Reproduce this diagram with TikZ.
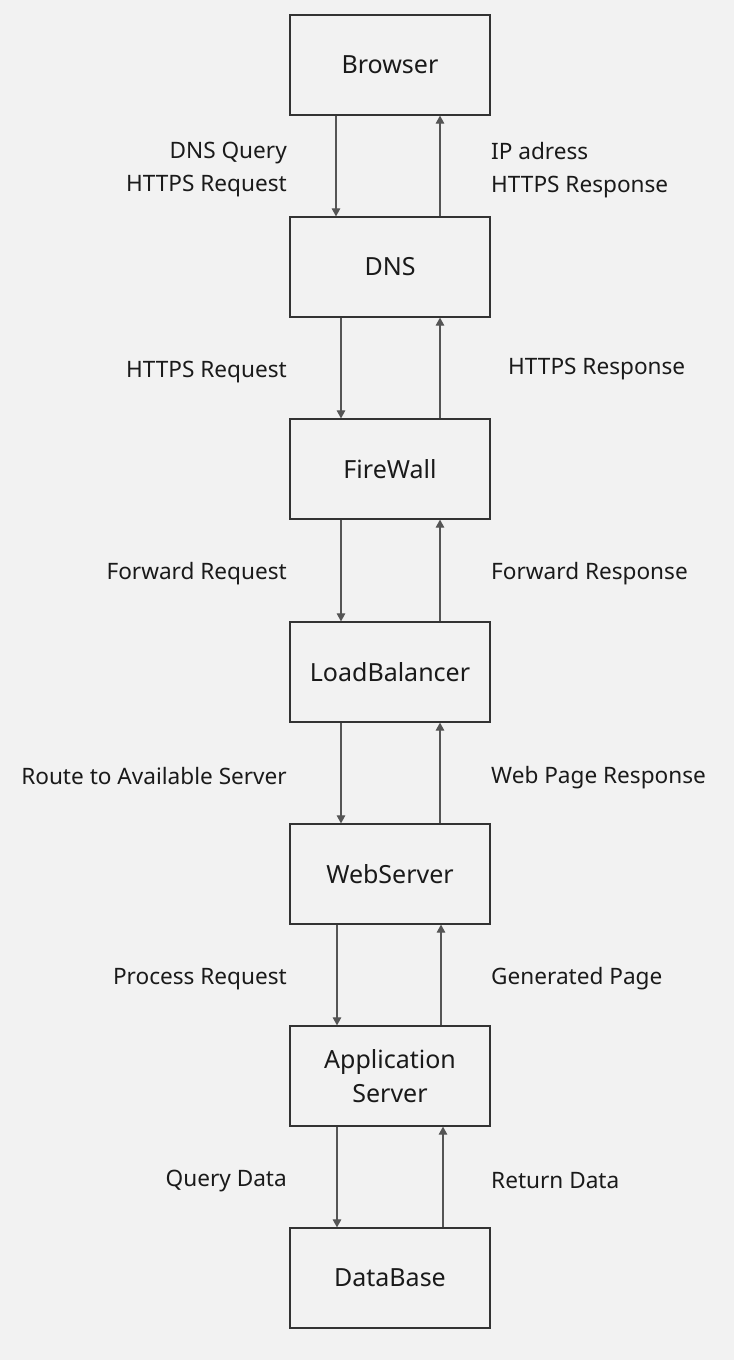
\documentclass[tikz,border=0pt]{standalone}
\usepackage{fontspec}
\setmainfont{Noto Sans}
\usetikzlibrary{arrows.meta}
\definecolor{bg}{HTML}{F2F2F2}
\definecolor{boxline}{HTML}{333333}
\definecolor{arrline}{HTML}{555555}
\definecolor{txt}{HTML}{1A1A1A}
\begin{document}
\begin{tikzpicture}[x=1pt,y=1pt,
  box/.style={draw=boxline, line width=1.2pt, fill=bg, minimum width=200pt, minimum height=100pt, inner sep=0pt, align=center, font=\fontsize{25}{34}\selectfont, text=txt},
  arr/.style={draw=arrline, line width=1.1pt, -{Triangle[length=8pt,width=8.5pt]}},
  lbl/.style={font=\fontsize{22.6}{33}\selectfont, text=txt, inner sep=0pt},
  lft/.style={lbl, anchor=east, align=right},
  rgt/.style={lbl, anchor=west, align=left}]
\fill[bg] (0,0) rectangle (734,-1360);
\useasboundingbox (0,0) rectangle (734,-1360);

\node[box] (browser) at (390,-65) {Browser};
\node[box] (dns) at (390,-267) {DNS};
\node[box] (fw) at (390,-469) {FireWall};
\node[box] (lb) at (390,-672) {LoadBalancer};
\node[box] (ws) at (390,-874) {WebServer};
\node[box] (app) at (390,-1076) {Application\\Server};
\node[box] (db) at (390,-1278) {DataBase};

\draw[arr] ([xshift=-54pt]browser.south) -- ([xshift=-54pt]dns.north);
\draw[arr] ([xshift=50pt]dns.north) -- ([xshift=50pt]browser.south);
\draw[arr] ([xshift=-49pt]dns.south) -- ([xshift=-49pt]fw.north);
\draw[arr] ([xshift=50pt]fw.north) -- ([xshift=50pt]dns.south);
\draw[arr] ([xshift=-49pt]fw.south) -- ([xshift=-49pt]lb.north);
\draw[arr] ([xshift=50pt]lb.north) -- ([xshift=50pt]fw.south);
\draw[arr] ([xshift=-49pt]lb.south) -- ([xshift=-49pt]ws.north);
\draw[arr] ([xshift=50pt]ws.north) -- ([xshift=50pt]lb.south);
\draw[arr] ([xshift=-53pt]ws.south) -- ([xshift=-53pt]app.north);
\draw[arr] ([xshift=51pt]app.north) -- ([xshift=51pt]ws.south);
\draw[arr] ([xshift=-53pt]app.south) -- ([xshift=-53pt]db.north);
\draw[arr] ([xshift=53pt]db.north) -- ([xshift=53pt]app.south);

\node[lft] (l1) at (287,-170) {DNS Query\\HTTPS Request};
\node[rgt] (r1) at (491,-170) {IP adress\\HTTPS Response};
\node[lft] (l2) at (287,-372) {HTTPS Request};
\node[rgt] (r2) at (508,-369) {HTTPS Response};
\node[lft] (l3) at (287,-574) {Forward Request};
\node[rgt] (r3) at (491,-574) {Forward Response};
\node[lft] (l4) at (287,-776) {Route to Available Server};
\node[rgt] (r4) at (491,-778) {Web Page Response};
\node[lft] (l5) at (287,-979) {Process Request};
\node[rgt] (r5) at (491,-979) {Generated Page};
\node[lft] (l6) at (287,-1181) {Query Data};
\node[rgt] (r6) at (491,-1181) {Return Data};
\end{tikzpicture}
\end{document}
